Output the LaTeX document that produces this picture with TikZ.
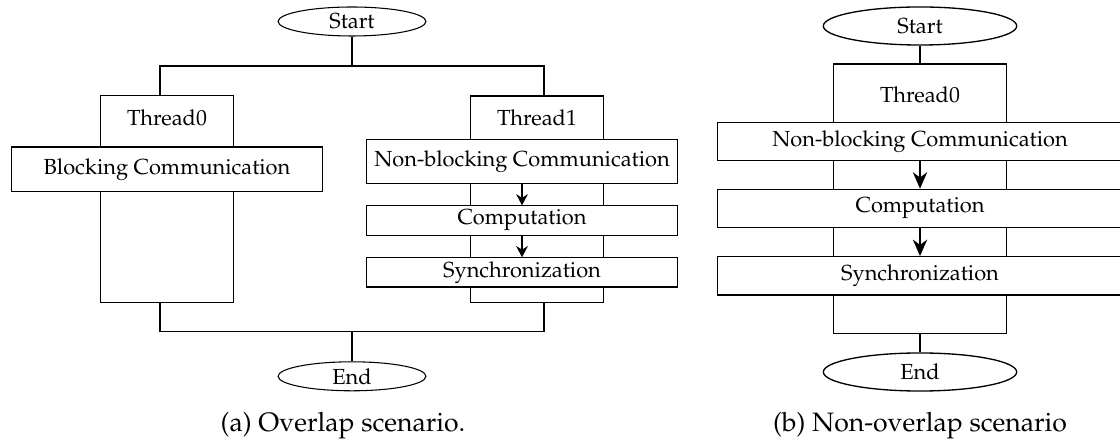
\documentclass[tikz,border=0pt]{standalone}
\usepackage[T1]{fontenc}
\usepackage{mathpazo}
\usepackage{tikz}
\usetikzlibrary{shapes.geometric, arrows.meta, positioning}

\begin{document}
\begin{tikzpicture}[
    x=0.376pt, y=-0.376pt,
    font=\fontsize{8.2}{10}\selectfont,
    term/.style={draw, ellipse, inner sep=0pt, minimum width=55.6pt, minimum height=10.9pt},
    lane/.style={draw, inner sep=0pt, minimum width=50pt, minimum height=77.6pt},
    proc/.style={draw, fill=white, inner sep=0pt, minimum width=116.8pt, minimum height=11pt},
    arrow/.style={-{Stealth[length=4.2pt, width=4.4pt]}},
    termb/.style={draw, ellipse, inner sep=0pt, minimum width=72.7pt, minimum height=14.3pt},
    laneb/.style={draw, inner sep=0pt, minimum width=64.9pt, minimum height=101.4pt},
    procb/.style={draw, fill=white, inner sep=0pt, minimum width=152.4pt, minimum height=14.4pt},
    arrowb/.style={-{Stealth[length=6.2pt, width=5.4pt]}},
    caption/.style={font=\fontsize{10}{12}\selectfont, anchor=base}
]
    \useasboundingbox (0,0) rectangle (1120,442);

    % (a) overlap
    \node[term] (startA) at (352,21.5) {Start};
    \node[lane] (lane0) at (167,198.9) {};
    \node[lane] (lane1) at (537,199.2) {};
    \node (thr0) at (167,118) {Thread0};
    \node (thr1) at (537,118) {Thread1};
    \node[proc, minimum height=16.9pt] (block) at (167,169.5) {Blocking Communication};
    \node[proc, minimum height=16.5pt] (nbcA) at (522,161.3) {Non-blocking Communication};
    \node[proc] (compA) at (522,220.5) {Computation};
    \node[proc] (syncA) at (522,272.4) {Synchronization};
    \node[term] (endA) at (352,376.3) {End};

    \coordinate (forkA) at (352,66);
    \coordinate (forkL) at (160,66);
    \coordinate (forkR) at (544,66);
    \coordinate (joinA) at (352,331.7);
    \coordinate (joinL) at (160,331.7);
    \coordinate (joinR) at (544,331.7);

    \draw (startA) -- (forkA);
    \draw (forkL |- lane0.north) -- (forkL) -- (forkR) -- (forkR |- lane1.north);
    \draw (joinL |- lane0.south) -- (joinL) -- (joinR) -- (joinR |- lane1.south);
    \draw (joinA) -- (endA);
    \draw[arrow] (nbcA) -- (compA);
    \draw[arrow] (compA) -- (syncA);

    \node[caption] (capA) at (343,431) {(a) Overlap scenario.};

    % (b) non-overlap
    \begin{scope}[line width=0.5pt]
    \node[termb] (startB) at (920,26) {Start};
    \node[laneb] (laneB) at (920,198.9) {};
    \node (thrB) at (920,95) {Thread0};
    \node[procb] (nbcB) at (920,141.5) {Non-blocking Communication};
    \node[procb] (compB) at (920,208.5) {Computation};
    \node[procb] (syncB) at (920,275.9) {Synchronization};
    \node[termb] (endB) at (920,372) {End};

    \draw (startB) -- (laneB);
    \draw (laneB) -- (endB);
    \draw[arrowb] (nbcB) -- (compB);
    \draw[arrowb] (compB) -- (syncB);
    \end{scope}

    \node[caption] (capB) at (920,431) {(b) Non-overlap scenario};
\end{tikzpicture}
\end{document}
